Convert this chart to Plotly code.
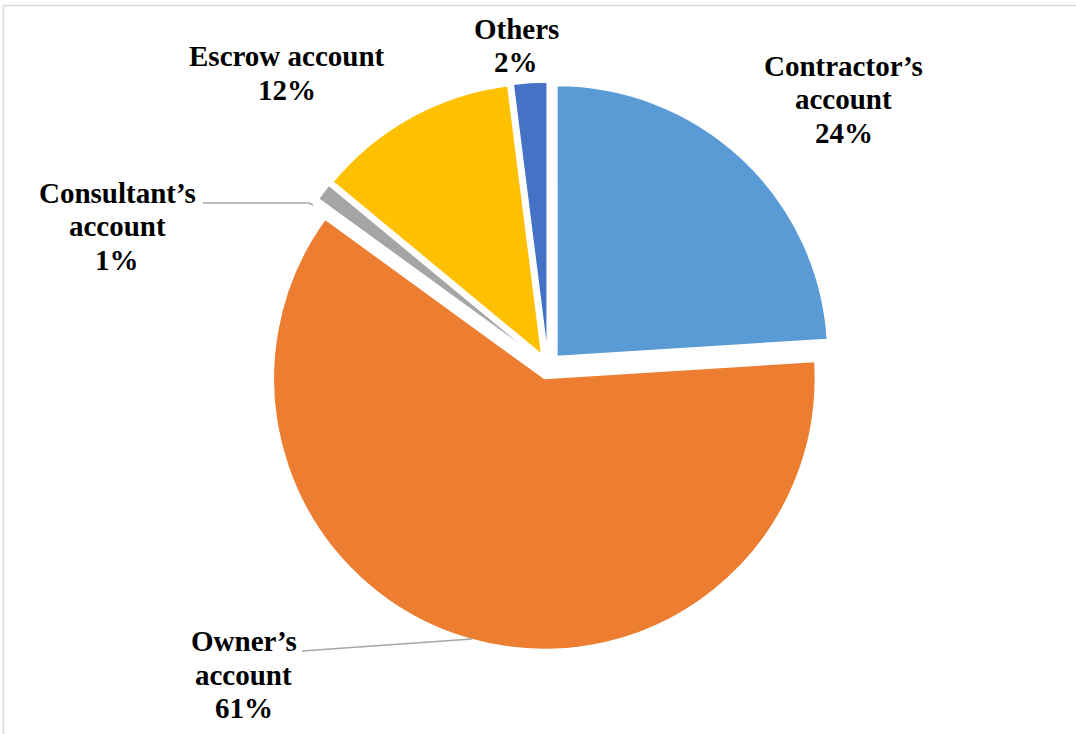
import plotly.graph_objects as go

W, H = 1076, 734

categories = ["Contractor’s account", "Owner’s account", "Consultant’s account", "Escrow account", "Others"]
values = [24, 61, 1, 12, 2]
colors = ["#5B9BD5", "#ED7D31", "#A5A5A5", "#FFC000", "#4472C4"]

label_lines = [["Contractor’s", "account", "24%"], ["Owner’s", "account", "61%"],
               ["Consultant’s", "account", "1%"], ["Escrow account", "12%"], ["Others", "2%"]]
# label layout: center x and first-line center y (pixels), line step
label_pos = [(843.5, 66), (243.5, 641), (117, 193), (287, 56), (516, 29)]
line_step = 33.5

cx, cy, r, pull = 548, 366, 271, 0.048
half = r * (1 + pull)

def px(x):
    return x / W

def py(y):
    return 1 - y / H

fig = go.Figure(go.Pie(
    labels=categories,
    values=values,
    sort=False,
    direction="clockwise",
    rotation=0,
    pull=[pull] * len(values),
    marker=dict(colors=colors, line=dict(color="white", width=1.5)),
    textinfo="none",
    hoverinfo="label+percent",
    showlegend=False,
    domain=dict(x=[px(cx - half), px(cx + half)], y=[py(cy + half), py(cy - half)]),
))

font = dict(family="Liberation Serif", size=29, color="black")
for lines, (x, y) in zip(label_lines, label_pos):
    for i, line in enumerate(lines):
        fig.add_annotation(x=px(x), y=py(y + i * line_step), xref="paper", yref="paper",
                           text="<b>" + line + "</b>", showarrow=False,
                           xanchor="center", yanchor="middle", align="center", font=font)

# leader lines
leaders = [((203, 203), (309, 203), (313, 205)), ((302, 651), (472, 639), None)]
for a, b, c in leaders:
    fig.add_shape(type="line", xref="paper", yref="paper", x0=px(a[0]), y0=py(a[1]), x1=px(b[0]), y1=py(b[1]),
                  line=dict(color="#A6A6A6", width=1.5))
    if c:
        fig.add_shape(type="line", xref="paper", yref="paper", x0=px(b[0]), y0=py(b[1]), x1=px(c[0]), y1=py(c[1]),
                      line=dict(color="#A6A6A6", width=1.5))

# chart frame
fig.add_shape(type="rect", xref="paper", yref="paper", x0=px(3.5), y0=-0.02, x1=1.02, y1=py(5.5),
              line=dict(color="#D9D9D9", width=1.5), fillcolor="rgba(0,0,0,0)", layer="below")

fig.update_layout(width=W, height=H, margin=dict(l=0, r=0, t=0, b=0),
                  paper_bgcolor="white", plot_bgcolor="white")

fig.write_html("out.html")
